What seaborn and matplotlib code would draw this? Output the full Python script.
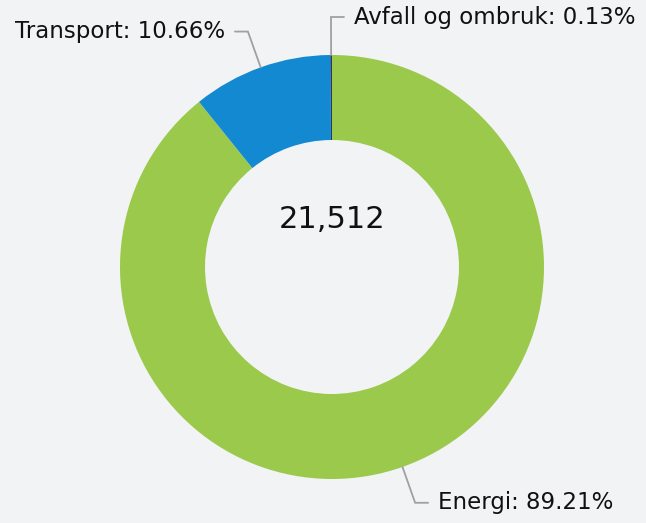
import numpy as np
import matplotlib
matplotlib.use("Agg")
import matplotlib.pyplot as plt
import seaborn as sns

# data
categories = ['Energi', 'Transport', 'Avfall og ombruk']
shares = [89.21, 10.66, 0.13]
total_label = '21,512'
colors = ['#9bc94b', '#1289d0', '#1d3b6c']

sns.set_theme(style='white')
plt.rcParams['font.family'] = ['DejaVu Sans']
bg = '#f2f3f5'

fig = plt.figure(figsize=(6.46, 5.23), dpi=100, facecolor=bg)
ax = fig.add_axes([0, 0, 1, 1])
ax.set_facecolor(bg)

H = 523
cx, cy = 332, H - 267
r_out = 212

wedges, _ = ax.pie(shares, colors=colors, startangle=90, counterclock=False,
                   center=(cx, cy), radius=r_out,
                   wedgeprops=dict(width=r_out - 127, linewidth=0))
ax.set_xlim(0, 646)
ax.set_ylim(0, H)
ax.set_aspect('equal')
ax.axis('off')

# leader lines + labels
for w, cat, s in zip(wedges, categories, shares):
    ang = np.deg2rad((w.theta1 + w.theta2) / 2)
    x1, y1 = cx + r_out * np.cos(ang), cy + r_out * np.sin(ang)
    x2, y2 = cx + 250 * np.cos(ang), cy + 250 * np.sin(ang)
    side = 1 if np.cos(ang) >= -0.01 else -1
    x3 = x2 + side * 13
    ax.plot([x1, x2, x3], [y1, y2, y2], color='#a0a0a0', lw=1.3,
            solid_joinstyle='miter')
    ax.text(x3 + side * 10, y2, f'{cat}: {s:.2f}%', fontsize=16.5,
            ha='left' if side > 0 else 'right', va='center', color='#111111')

ax.text(cx, H - 219, total_label, fontsize=22, ha='center', va='center',
        color='#111111')

fig.savefig('out.png', dpi=100, facecolor=bg)
